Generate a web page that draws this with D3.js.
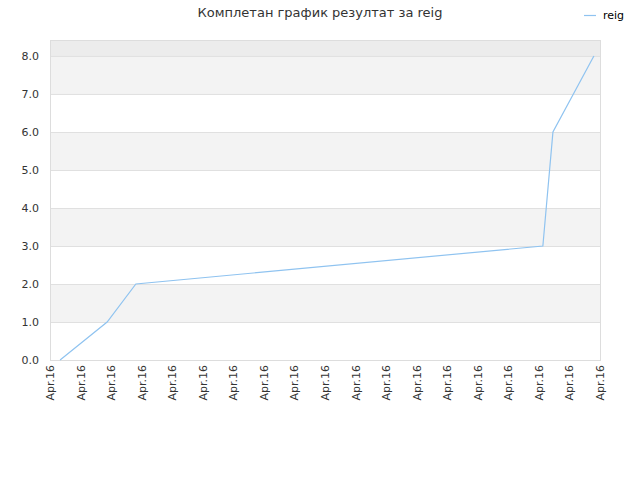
<!DOCTYPE html>
<html><head><meta charset="utf-8">
<script src="https://cdn.jsdelivr.net/npm/d3@7"></script>
<style>body{margin:0;background:#fff}text{font-family:"DejaVu Sans",sans-serif}</style>
</head><body><svg id="c" width="640" height="480"></svg>
<script>
const title = "Комплетан график резултат за reig";
const seriesName = "reig";
const xTickLabels = Array(19).fill("Apr.16");
const xValues = [0.33, 1.87, 2.81, 16.13, 16.46, 17.8];
const yValues = [0, 1, 2, 3, 6, 8];
const yTicks = [0,1,2,3,4,5,6,7,8];

const svg = d3.select("#c");
const L=50,R=600,T=40,B=360;
const x = d3.scaleLinear().domain([0,18]).range([L,R]);
const y = d3.scaleLinear().domain([0,8.42]).range([B,T]);

const bands = d3.range(0,9);
svg.selectAll("rect.band").data(bands).enter().append("rect")
  .attr("x",L).attr("width",R-L)
  .attr("y",d=>y(Math.min(d+1,8.42))).attr("height",d=>y(d)-y(Math.min(d+1,8.42)))
  .attr("fill",d=>d===8?"#ececec":(d%2===1?"#f3f3f3":"#ffffff"));
svg.selectAll("line.grid").data(yTicks).enter().append("line")
  .attr("x1",L).attr("x2",R).attr("y1",d=>y(d)+0.5).attr("y2",d=>y(d)+0.5)
  .attr("stroke","#e0e0e0");
svg.append("rect").attr("x",L+0.5).attr("y",T+0.5).attr("width",R-L).attr("height",B-T)
  .attr("fill","none").attr("stroke","#dddddd");

svg.selectAll("text.yl").data(yTicks).enter().append("text")
  .attr("x",L-11).attr("y",d=>y(d)+4).attr("text-anchor","end")
  .attr("font-size",11).attr("fill","#333").text(d=>d.toFixed(1));
svg.selectAll("text.xl").data(xTickLabels).enter().append("text")
  .attr("transform",(d,i)=>`translate(${x(i)+4},${B+5}) rotate(-90)`)
  .attr("text-anchor","end").attr("font-size",11).attr("fill","#333").text(d=>d);

const pts = xValues.map((v,i)=>[v,yValues[i]]);
svg.append("path").datum(pts)
  .attr("d",d3.line().x(d=>x(d[0])).y(d=>y(d[1])))
  .attr("fill","none").attr("stroke","#8fc3f0").attr("stroke-width",1.2);

svg.append("text").attr("x",320).attr("y",17).attr("text-anchor","middle")
  .attr("font-size",13).attr("fill","#333").text(title);
svg.append("line").attr("x1",584).attr("x2",596).attr("y1",15.5).attr("y2",15.5)
  .attr("stroke","#8fc3f0").attr("stroke-width",1.2);
svg.append("text").attr("x",603).attr("y",19).attr("font-size",11).attr("fill","#000").text(seriesName);
</script></body></html>
